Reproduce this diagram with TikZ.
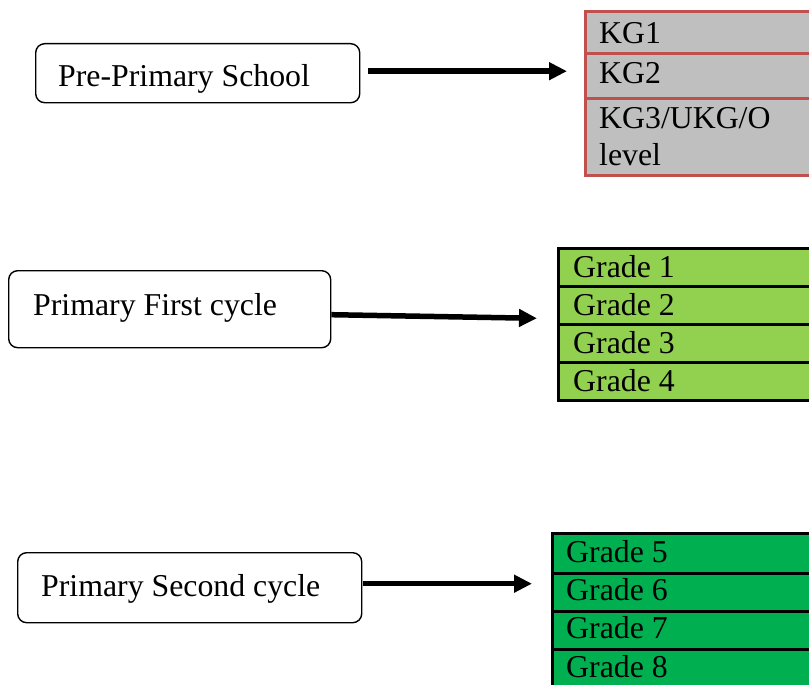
\documentclass[tikz,border=0pt]{standalone}
\usepackage{fontspec}
\setmainfont{Liberation Serif}
\usetikzlibrary{arrows.meta}
\definecolor{kgfill}{HTML}{BFBFBF}
\definecolor{kgline}{HTML}{C0504D}
\definecolor{lightgreen}{HTML}{92D050}
\definecolor{darkgreen}{HTML}{00B050}

\begin{document}
\begin{tikzpicture}[x=1bp,y=-1bp,
  stage/.style={draw=black, line width=1.4bp, rounded corners=9bp, inner sep=0pt, anchor=north west},
  cell/.style={rectangle, inner sep=0pt, anchor=north west, minimum width=300bp},
  kgcell/.style={cell, draw=kgline, fill=kgfill, line width=2.8bp},
  gacell/.style={cell, draw=black, fill=lightgreen, line width=2.6bp},
  gbcell/.style={cell, draw=black, fill=darkgreen, line width=2.6bp},
  lbl/.style={anchor=base west, inner sep=0pt, font=\fontsize{31.8bp}{36bp}\selectfont},
  arr/.style={line width=5.5bp, -{Triangle[length=18bp,width=17bp]}}
]
\clip (0,0) rectangle (809,685);

% stage boxes
\node[stage, minimum width=324bp, minimum height=59bp] (pre) at (35,43) {};
\node[stage, minimum width=322bp, minimum height=77bp] (first) at (8,270) {};
\node[stage, minimum width=344bp, minimum height=70bp] (second) at (17,552) {};
\node[lbl] (tpre) at (58,87) {Pre-Primary School};
\node[lbl] (tfirst) at (33,315) {Primary First cycle};
\node[lbl] (tsecond) at (41,596) {Primary Second cycle};

% pre-primary levels
\node[kgcell, minimum height=42bp] (kg1) at (584,10) {};
\node[kgcell, minimum height=45bp] (kg2) at (584,52) {};
\node[kgcell, minimum height=77bp] (kg3) at (584,97) {};
\node[lbl] (tkg1) at (599,44) {KG1};
\node[lbl] (tkg2) at (599,84) {KG2};
\node[lbl] (tkg3) at (599,129) {KG3/UKG/O};
\node[lbl] (tkg3b) at (599,165) {level};

% first cycle grades
\node[gacell, minimum height=38bp] (g1) at (557,247) {};
\node[gacell, minimum height=38bp] (g2) at (557,285) {};
\node[gacell, minimum height=38bp] (g3) at (557,323) {};
\node[gacell, minimum height=38bp] (g4) at (557,361) {};
\node[lbl] (tg1) at (573,277) {Grade 1};
\node[lbl] (tg2) at (573,315) {Grade 2};
\node[lbl] (tg3) at (573,353) {Grade 3};
\node[lbl] (tg4) at (573,391) {Grade 4};

% second cycle grades
\node[gbcell, minimum height=40bp] (g5) at (551,532) {};
\node[gbcell, minimum height=38bp] (g6) at (551,572) {};
\node[gbcell, minimum height=38bp] (g7) at (551,610) {};
\node[gbcell, minimum height=50bp] (g8) at (551,648) {};
\node[lbl] (tg5) at (566,562) {Grade 5};
\node[lbl] (tg6) at (566,600) {Grade 6};
\node[lbl] (tg7) at (566,638) {Grade 7};
\node[lbl] (tg8) at (566,677) {Grade 8};

% connectors
\draw[arr] ([xshift=8bp,yshift=2bp]pre.east) -- ([xshift=-17bp,yshift=2bp]pre.east -| kg2.west);
\draw[arr] ([yshift=-5.5bp]first.east) -- ([xshift=-20bp,yshift=-13bp]g2.west);
\draw[arr] ([xshift=1bp,yshift=4bp]second.east) -- ([xshift=-19bp,yshift=4bp]second.east -| g6.west);
\end{tikzpicture}
\end{document}
